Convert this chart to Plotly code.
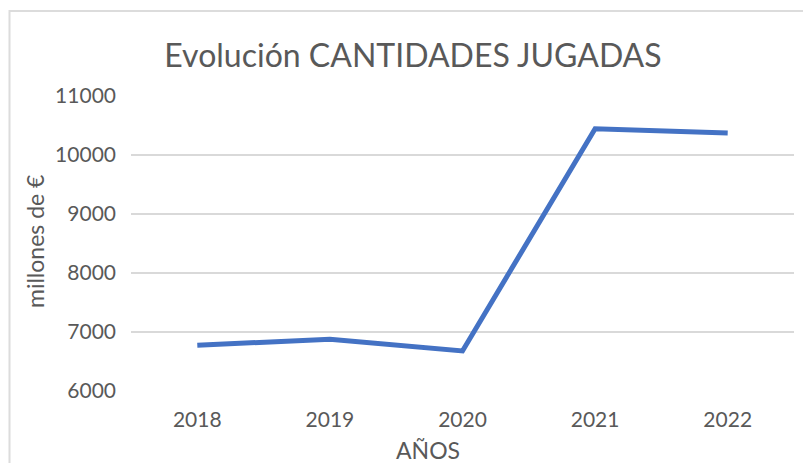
import plotly.graph_objects as go

years = ["2018", "2019", "2020", "2021", "2022"]
cantidades = [6776, 6878, 6679, 10445, 10371]
y_ticks = [6000, 7000, 8000, 9000, 10000, 11000]

# page body adds an 8px offset; figure spans screen 8..811 x 8..463
OFF = 8
W, H = 811 - OFF, 463 - OFF
L, R, T, B = 131 - OFF, 811 - 794, 96 - OFF, 463 - 391
pw, ph = W - L - R, H - T - B

def px(x_screen):
    return (x_screen - OFF - L) / pw

def py(y_screen):
    return (H - B - (y_screen - OFF)) / ph

fig = go.Figure()
fig.add_trace(go.Scatter(x=years, y=cantidades, mode="lines",
                         line=dict(color="#4472c4", width=5), showlegend=False))

font_family = "Lato, Open Sans, sans-serif"
grey = "#595959"
fig.update_layout(
    width=W, height=H,
    margin=dict(l=L, r=R, t=T, b=B, autoexpand=False),
    paper_bgcolor="white", plot_bgcolor="white",
    font=dict(family=font_family, color=grey),
    title=dict(text="Evolución CANTIDADES JUGADAS", xref="container", x=(413 - OFF) / W,
               xanchor="center", yref="container", y=1 - (56 - OFF) / H, yanchor="middle",
               font=dict(size=32, color=grey, family=font_family)),
    xaxis=dict(type="category", range=[-0.5, 4.5], showgrid=False, showline=False,
               ticks="", tickfont=dict(size=21, color=grey), ticklabelstandoff=14),
    yaxis=dict(range=[6000, 11000], tickvals=y_ticks, tickformat="d", showgrid=True,
               gridcolor="#d9d9d9", gridwidth=1.5, zeroline=False, showline=False, ticks="",
               tickfont=dict(size=21, color=grey), ticklabelstandoff=14),
    annotations=[
        dict(text="millones de €", xref="paper", yref="paper", x=px(35), y=py(241),
             textangle=-90, showarrow=False, xanchor="center", yanchor="middle",
             font=dict(size=23, color=grey, family=font_family)),
        dict(text="AÑOS", xref="paper", yref="paper", x=px(428), y=py(450),
             showarrow=False, xanchor="center", yanchor="middle",
             font=dict(size=23, color=grey, family=font_family)),
    ],
    shapes=[dict(type="rect", xref="paper", yref="paper",
                 x0=px(9.5), x1=px(830), y0=py(490), y1=py(11),
                 line=dict(color="#dcdcdc", width=2), fillcolor="rgba(0,0,0,0)")],
)

fig.write_html("out.html")
